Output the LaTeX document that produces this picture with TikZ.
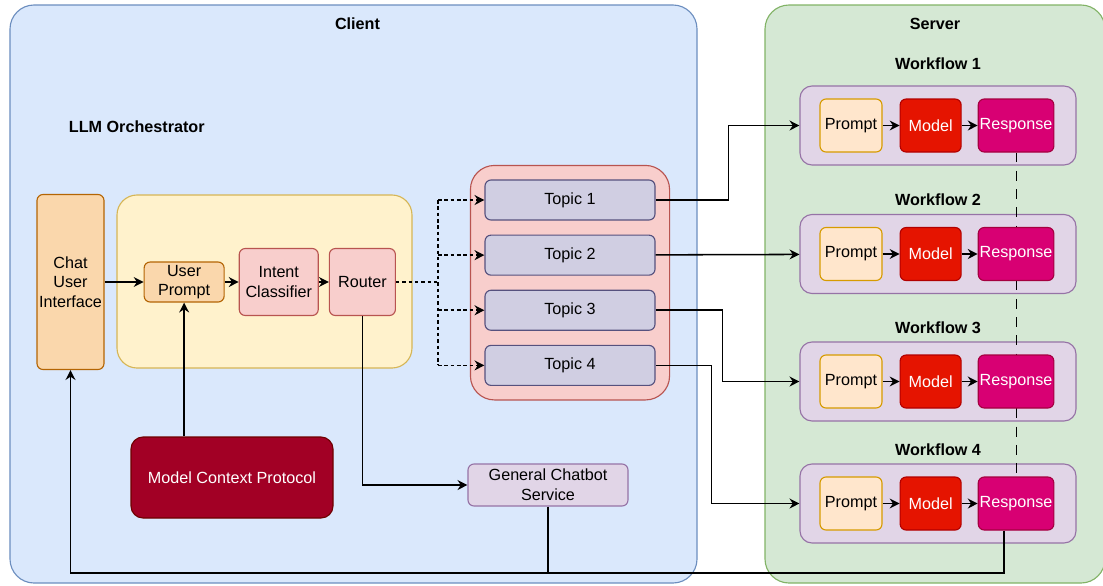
\documentclass[tikz,border=0pt]{standalone}
\usepackage{fontspec}
\setmainfont{Liberation Sans}
\usepackage{tikz}
\usetikzlibrary{positioning, fit, calc, arrows.meta}
\usepackage{xcolor}

\definecolor{clientfill}{HTML}{DAE8FC}
\definecolor{clientline}{HTML}{6C8EBF}
\definecolor{serverfill}{HTML}{D5E8D4}
\definecolor{serverline}{HTML}{82B366}
\definecolor{orchfill}{HTML}{FFF2CC}
\definecolor{orchline}{HTML}{D6B656}
\definecolor{uifill}{HTML}{FAD7AC}
\definecolor{uiline}{HTML}{B46504}
\definecolor{promptfill}{HTML}{FFE6CC}
\definecolor{promptline}{HTML}{D79B00}
\definecolor{redfill}{HTML}{F8CECC}
\definecolor{redline}{HTML}{B85450}
\definecolor{topicfill}{HTML}{D0CEE2}
\definecolor{topicline}{HTML}{56517E}
\definecolor{lilacfill}{HTML}{E1D5E7}
\definecolor{lilacline}{HTML}{9673A6}
\definecolor{modelfill}{HTML}{E51400}
\definecolor{modelline}{HTML}{B20000}
\definecolor{respfill}{HTML}{D80073}
\definecolor{respline}{HTML}{A50040}
\definecolor{mcpfill}{HTML}{A20025}
\definecolor{mcpline}{HTML}{6F0000}

\pgfdeclarelayer{background}
\pgfdeclarelayer{mid}
\pgfsetlayers{background,mid,main}

\begin{document}
\begin{tikzpicture}[
  font=\fontsize{11.5}{14}\selectfont,
  group/.style={rectangle, rounded corners=0.6cm, draw, line width=0.8pt},
  wfbox/.style={rectangle, rounded corners=0.3cm, draw=lilacline, fill=lilacfill, line width=0.8pt, minimum width=6.9cm, minimum height=1.975cm},
  title/.style={font=\fontsize{11.5}{14}\selectfont\bfseries},
  block/.style={rectangle, rounded corners=0.15cm, draw, line width=0.8pt, align=center, inner sep=1pt},
  chatui/.style={block, fill=uifill, draw=uiline, minimum width=1.675cm, minimum height=4.375cm},
  userprompt/.style={block, fill=uifill, draw=uiline, minimum width=2cm, minimum height=1cm},
  classify/.style={block, fill=redfill, draw=redline, minimum width=1.975cm, minimum height=1.675cm},
  topic/.style={block, fill=topicfill, draw=topicline, minimum width=4.25cm, minimum height=1cm},
  service/.style={block, fill=lilacfill, draw=lilacline, minimum width=4cm, minimum height=1.05cm},
  mcp/.style={block, rounded corners=0.3cm, fill=mcpfill, draw=mcpline, text=white, minimum width=5.05cm, minimum height=2.025cm},
  prompt/.style={block, fill=promptfill, draw=promptline, minimum width=1.55cm, minimum height=1.325cm},
  model/.style={block, fill=modelfill, draw=modelline, text=white, minimum width=1.525cm, minimum height=1.325cm},
  response/.style={block, fill=respfill, draw=respline, text=white, minimum width=1.85cm, minimum height=1.325cm},
  link/.style={line width=1.1pt},
  tipped/.style={-{Stealth[length=7pt, width=7pt]}},
  route/.style={line width=1.1pt, dash pattern=on 2.5pt off 2pt},
  handoff/.style={line width=0.8pt, dash pattern=on 7pt off 6pt}
]

    \path[use as bounding box, clip] (0,0) rectangle (27.575,-14.625);

    % Containers
    \begin{pgfonlayer}{background}
    \node[group, fill=clientfill, draw=clientline, minimum width=17.175cm, minimum height=14.45cm] (client) at (8.8375,-7.35) {};
    \node[group, fill=serverfill, draw=serverline, minimum width=8.5cm, minimum height=14.45cm] (server) at (23.375,-7.35) {};
    \node[group, rounded corners=0.5cm, fill=orchfill, draw=orchline, minimum width=7.375cm, minimum height=4.325cm] (orch) at (6.6125,-7.0375) {};
    \node[wfbox] (wf1) at (23.45,-3.1375) {};
    \node[wfbox] (wf2) at (23.45,-6.35) {};
    \node[wfbox] (wf3) at (23.45,-9.5375) {};
    \node[wfbox] (wf4) at (23.45,-12.5875) {};
    \end{pgfonlayer}

    % Titles
    \node[title, below=0.22cm of client.north, xshift=0.1cm] (clienttitle) {Client};
    \node[title, below=0.22cm of server.north] (servertitle) {Server};
    \node[title, anchor=west] (orchtitle) at (1.6,-3.175) {LLM Orchestrator};
    \node[title, anchor=base] (wf1title) at ([yshift=0.4cm]wf1.north) {Workflow 1};
    \node[title, anchor=base] (wf2title) at ([yshift=0.2cm]wf2.north) {Workflow 2};
    \node[title, anchor=base] (wf3title) at ([yshift=0.2cm]wf3.north) {Workflow 3};
    \node[title, anchor=base] (wf4title) at ([yshift=0.2cm]wf4.north) {Workflow 4};

    % Orchestrator chain
    \node[chatui] (chat) at (1.7625,-7.05) {Chat\\User\\Interface};
    \node[userprompt, right=0.975cm of chat] (up) {User\\Prompt};
    \node[classify, right=0.35cm of up] (ic) {Intent\\Classifier};
    \node[classify, right=0.25cm of ic, minimum width=1.65cm] (router) {Router};

    \node[mcp] (mcp) at (5.8,-11.9375) {Model Context Protocol};
    \node[service] (gcs) at (13.7,-12.125) {General Chatbot\\Service};

    % Topics
    \node[topic] (t1) at (14.25,-5.0) {Topic 1};
    \node[topic, below=0.35cm of t1] (t2) {Topic 2};
    \node[topic, below=0.35cm of t2] (t3) {Topic 3};
    \node[topic, below=0.35cm of t3] (t4) {Topic 4};
    \begin{pgfonlayer}{background}
    \node[group, fit=(t1)(t4), inner sep=0.35cm, fill=redfill, draw=redline] (topics) {};
    \end{pgfonlayer}

    % Workflows
    \node[prompt, right=0.5cm of wf1.west] (p1) {Prompt};
    \node[model, right=0.425cm of p1] (m1) {Model};
    \node[response, right=0.4cm of m1] (r1) {Response};

    \node[prompt, right=0.5cm of wf2.west] (p2) {Prompt};
    \node[model, right=0.425cm of p2] (m2) {Model};
    \node[response, right=0.4cm of m2] (r2) {Response};

    \node[prompt, right=0.5cm of wf3.west] (p3) {Prompt};
    \node[model, right=0.425cm of p3] (m3) {Model};
    \node[response, right=0.4cm of m3] (r3) {Response};

    \node[prompt, right=0.5cm of wf4.west] (p4) {Prompt};
    \node[model, right=0.425cm of p4] (m4) {Model};
    \node[response, right=0.4cm of m4] (r4) {Response};

    \draw[link, tipped] (p1) -- (m1);
    \draw[link, tipped] (m1) -- (r1);
    \draw[link, tipped] (p2) -- (m2);
    \draw[link, tipped] (m2) -- (r2);
    \draw[link, tipped] (p3) -- (m3);
    \draw[link, tipped] (m3) -- (r3);
    \draw[link, tipped] (p4) -- (m4);
    \draw[link, tipped] (m4) -- (r4);

    % Responses handed down
    \begin{pgfonlayer}{mid}
    \draw[handoff] (r1.south) -- (r4.north);
    \end{pgfonlayer}

    % Chain arrows
    \draw[link, tipped] (chat) -- (up);
    \draw[link, tipped] (up) -- (ic);
    \draw[link, tipped] (ic) -- (router);
    \draw[link, tipped] (mcp.north -| up.south) -- (up.south);
    \draw[link, tipped] (router.south) |- (gcs.west);

    % Routing to topics
    \coordinate (split) at (10.95,-7.05);
    \draw[route] (router) -- (split);
    \draw[route] (split |- t1) -- (split |- t4);
    \draw[route, tipped] (split |- t1) -- (t1);
    \draw[route, tipped] (split |- t2) -- (t2);
    \draw[route, tipped] (split |- t3) -- (t3);
    \draw[route, tipped] (split |- t4) -- (t4);

    % Topics to workflows
    \draw[link, tipped] (t1.east) -- ++(1.825,0) |- (wf1.west);
    \draw[link, tipped] (t2) -- (wf2);
    \draw[link, tipped] (t3.east) -- ++(1.675,0) |- (wf3.west);
    \draw[link, tipped] (t4.east) -- ++(1.4,0) |- (wf4.west);

    % Back to the chat
    \coordinate (back) at (0,-14.325);
    \draw[link, tipped] ([xshift=-0.3cm]r4.south) |- (back -| chat.south) -- (chat.south);
    \draw[link] (gcs.south) -- (gcs.south |- back);

\end{tikzpicture}
\end{document}
